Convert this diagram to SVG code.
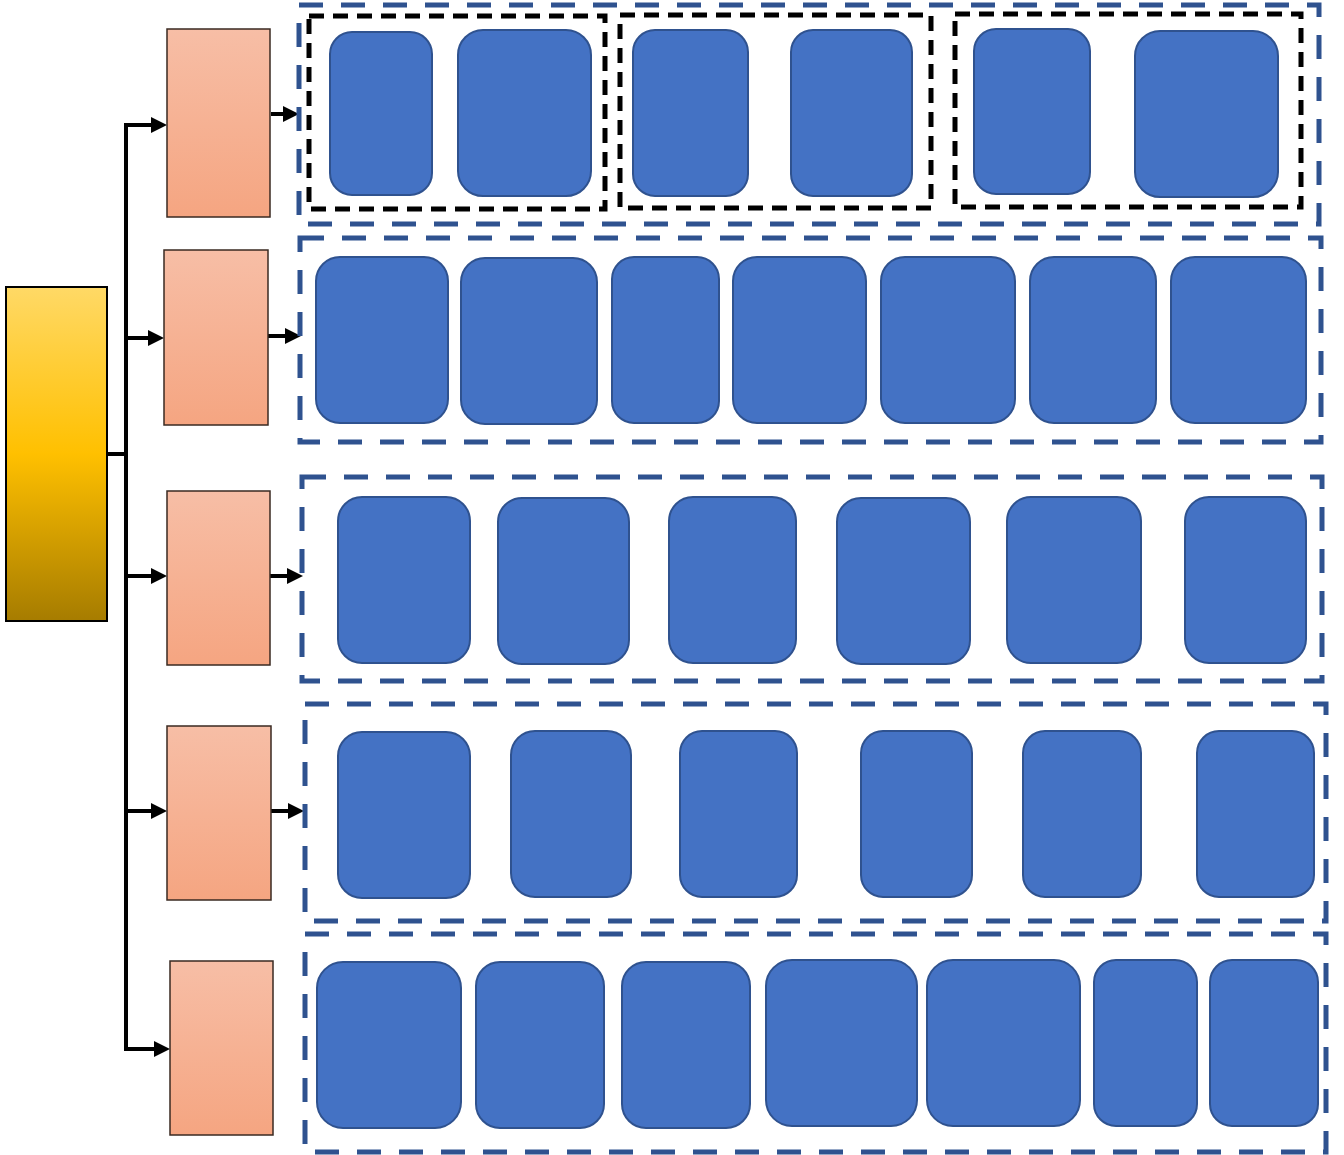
<svg xmlns="http://www.w3.org/2000/svg" width="1344" height="1155" viewBox="0 0 1344 1155">
<defs>
<linearGradient id="gY" x1="0" y1="0" x2="0" y2="1">
<stop offset="0" stop-color="#FFD966"/>
<stop offset="0.5" stop-color="#FFC000"/>
<stop offset="1" stop-color="#A67C00"/>
</linearGradient>
<linearGradient id="gO" x1="0" y1="0" x2="0" y2="1">
<stop offset="0" stop-color="#F7BEA6"/>
<stop offset="1" stop-color="#F5A581"/>
</linearGradient>
<marker id="ah" markerUnits="userSpaceOnUse" markerWidth="16" markerHeight="16" refX="0" refY="8" orient="auto">
<path d="M0,0 L16,8 L0,16 z" fill="#000"/>
</marker>
</defs>
<style>
.root{fill:url(#gY);stroke:#000;stroke-width:2}
.mid{fill:url(#gO);stroke:#3A2A22;stroke-width:1.5}
.blk{fill:#4472C4;stroke:#2F528F;stroke-width:2}
.grp{fill:none;stroke:#2F528F;stroke-width:5;stroke-dasharray:24 18}
.sub{fill:none;stroke:#000;stroke-width:5;stroke-dasharray:15 9}
.con{fill:none;stroke:#000;stroke-width:4}
.arr{fill:none;stroke:#000;stroke-width:4;marker-end:url(#ah)}
</style>
<rect width="1344" height="1155" fill="#fff"/>

<g id="connectors">
<path class="con" d="M107,454 H128"/>
<path class="con" d="M126,123 V1051"/>
<path class="arr" d="M124,125 H151"/>
<path class="arr" d="M126,338 H148"/>
<path class="arr" d="M126,576 H151"/>
<path class="arr" d="M126,811 H151"/>
<path class="arr" d="M124,1049 H154"/>
<path class="arr" d="M271,114 H283"/>
<path class="arr" d="M268,336 H285"/>
<path class="arr" d="M270,576 H287"/>
<path class="arr" d="M271,811 H288"/>
</g>

<g id="root"><rect class="root" x="6" y="287" width="101" height="334"/></g>

<g id="mid1"><rect class="mid" x="167" y="29" width="103" height="188"/></g>
<g id="mid2"><rect class="mid" x="164" y="250" width="104" height="175"/></g>
<g id="mid3"><rect class="mid" x="167" y="491" width="103" height="174"/></g>
<g id="mid4"><rect class="mid" x="167" y="726" width="104" height="174"/></g>
<g id="mid5"><rect class="mid" x="170" y="961" width="103" height="174"/></g>

<g id="group1">
<rect class="grp" x="299" y="5" width="1020" height="219"/>
<rect class="sub" x="309" y="16" width="296" height="193"/>
<rect class="sub" x="620" y="15" width="311" height="193"/>
<rect class="sub" x="955" y="14" width="346" height="193"/>
<rect class="blk" x="330" y="32" width="102" height="163" rx="22"/>
<rect class="blk" x="458" y="30" width="133" height="166" rx="25"/>
<rect class="blk" x="633" y="30" width="115" height="166" rx="22"/>
<rect class="blk" x="791" y="30" width="121" height="166" rx="22"/>
<rect class="blk" x="974" y="29" width="116" height="165" rx="22"/>
<rect class="blk" x="1135" y="31" width="143" height="166" rx="25"/>
</g>

<g id="group2">
<rect class="grp" x="300" y="238" width="1021" height="204"/>
<rect class="blk" x="316" y="257" width="132" height="166" rx="24"/>
<rect class="blk" x="461" y="258" width="136" height="166" rx="24"/>
<rect class="blk" x="612" y="257" width="107" height="166" rx="22"/>
<rect class="blk" x="733" y="257" width="133" height="166" rx="24"/>
<rect class="blk" x="881" y="257" width="134" height="166" rx="24"/>
<rect class="blk" x="1030" y="257" width="126" height="166" rx="24"/>
<rect class="blk" x="1171" y="257" width="135" height="166" rx="24"/>
</g>

<g id="group3">
<rect class="grp" x="302" y="477" width="1020" height="204"/>
<rect class="blk" x="338" y="497" width="132" height="166" rx="24"/>
<rect class="blk" x="498" y="498" width="131" height="166" rx="24"/>
<rect class="blk" x="669" y="497" width="127" height="166" rx="24"/>
<rect class="blk" x="837" y="498" width="133" height="166" rx="24"/>
<rect class="blk" x="1007" y="497" width="134" height="166" rx="24"/>
<rect class="blk" x="1185" y="497" width="121" height="166" rx="24"/>
</g>

<g id="group4">
<rect class="grp" x="305" y="704" width="1021" height="217"/>
<rect class="blk" x="338" y="732" width="132" height="166" rx="24"/>
<rect class="blk" x="511" y="731" width="120" height="166" rx="24"/>
<rect class="blk" x="680" y="731" width="117" height="166" rx="22"/>
<rect class="blk" x="861" y="731" width="111" height="166" rx="22"/>
<rect class="blk" x="1023" y="731" width="118" height="166" rx="22"/>
<rect class="blk" x="1197" y="731" width="117" height="166" rx="22"/>
</g>

<g id="group5">
<rect class="grp" x="305" y="934" width="1021" height="218"/>
<rect class="blk" x="317" y="962" width="144" height="166" rx="26"/>
<rect class="blk" x="476" y="962" width="128" height="166" rx="24"/>
<rect class="blk" x="622" y="962" width="128" height="166" rx="24"/>
<rect class="blk" x="766" y="960" width="151" height="166" rx="26"/>
<rect class="blk" x="927" y="960" width="153" height="166" rx="26"/>
<rect class="blk" x="1094" y="960" width="103" height="166" rx="22"/>
<rect class="blk" x="1210" y="960" width="108" height="166" rx="22"/>
</g>
</svg>
